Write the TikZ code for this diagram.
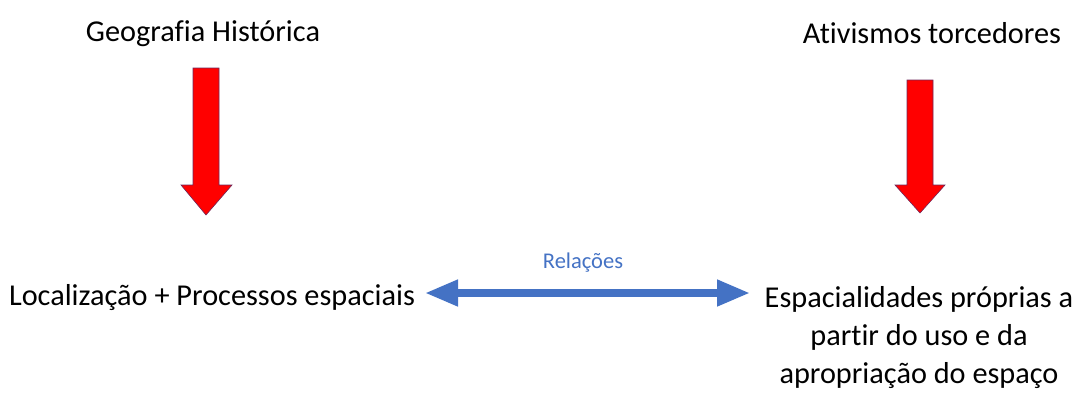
\documentclass[tikz,border=0pt]{standalone}
\usepackage{fontspec}
\setmainfont{Carlito}[Ligatures=CommonOff]
\usetikzlibrary{arrows.meta}
\definecolor{relblue}{RGB}{68,114,196}
\definecolor{arrowred}{RGB}{255,0,0}
\definecolor{arrowedge}{RGB}{110,40,90}
\tikzset{
  label text/.style={inner sep=0pt, anchor=base, font=\fontsize{30.3}{38}\selectfont},
  downarrow/.style={fill=arrowred, draw=arrowedge, line width=0.6pt, line join=miter},
  relation/.style={draw=relblue, line width=7.5pt,
    {Triangle[length=33pt,width=25pt]}-{Triangle[length=33pt,width=25pt]}},
}
\begin{document}
\begin{tikzpicture}[x=1pt,y=-1pt]
  \useasboundingbox (0,0) rectangle (1075,392);

  % titles
  \node[label text] (geo) at (203,41) {Geografia Histórica};
  \node[label text] (ativ) at (932,43) {Ativismos torcedores};

  % bottom texts (the base anchor of a multi-line node sits on its last line)
  \node[label text] (loc) at (212,305) {Localização + Processos espaciais};
  \node[label text, align=center] (esp) at (919,383)
    {Espacialidades próprias a\\partir do uso e da\\apropriação do espaço};

  % red block arrows
  \draw[downarrow] (193,68) -- (219,68) -- (219,185) -- (232,185) -- (206,215)
    -- (181,185) -- (193,185) -- cycle;
  \draw[downarrow] (907,80) -- (933,80) -- (933,185) -- (945,185) -- (920,213)
    -- (895,185) -- (907,185) -- cycle;

  % relation arrow
  \coordinate (rl) at (425,293);
  \coordinate (rr) at (750,293);
  \draw[relation] (rl) -- (rr);
  \node[inner sep=0pt, anchor=base, text=relblue, font=\fontsize{22.5}{27}\selectfont]
    (rel) at (583,268) {Relações};
\end{tikzpicture}
\end{document}
